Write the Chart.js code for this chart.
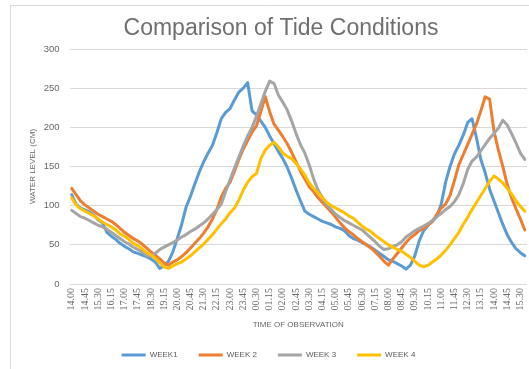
<!DOCTYPE html>
<html>
<head>
<meta charset="utf-8">
<script src="https://cdn.jsdelivr.net/npm/chart.js@4.4.1/dist/chart.umd.min.js"></script>
<style>
  html, body { margin: 0; padding: 0; background: #fff; }
  #wrap { width: 529px; height: 369px; }
</style>
</head>
<body>
<div id="wrap"><canvas id="tide" width="529" height="369"></canvas></div>
<script>
// Water level readings (cm), one every 15 minutes starting at 14.00
const week1Levels = [
  114, 102, 97, 94.5, 92, 88, 82, 78, 66, 61,
  57, 52, 48, 45, 41, 39, 37, 35, 32, 28,
  20, 23, 29, 41, 58, 76, 98, 112, 128, 143,
  156, 167, 177, 193, 211, 219, 224, 235, 245, 250,
  257, 221, 216, 208, 200, 189, 179, 169, 160, 149,
  135, 120, 106, 93, 89, 86, 83, 80, 78, 76,
  73, 71, 68, 62, 58, 56, 53, 50, 47, 43,
  39, 35, 31, 29, 26, 23, 19, 24, 36, 55,
  68, 75, 80, 86, 102, 130, 150, 166, 177, 190,
  206, 211, 187, 159, 142, 121, 106, 91, 76, 63,
  53, 45, 40, 36
];
const week2Levels = [
  122, 114, 106, 101, 97, 93, 89, 86, 83, 80,
  76, 71, 66, 62, 58, 55, 51, 46, 41, 37,
  32, 27, 24, 28, 31, 35, 40, 46, 52, 58,
  65, 73, 83, 95, 111, 122, 130, 144, 159, 172,
  183, 194, 202, 220, 239, 220, 204, 196, 188, 179,
  168, 156, 144, 134, 124, 118, 110, 104, 98, 92,
  85, 78, 72, 67, 63, 58, 54, 50, 46, 41,
  35, 29, 24, 32, 39, 46, 53, 59, 63, 68,
  71, 75, 80, 89, 97, 102, 113, 132, 152, 165,
  178, 191, 204, 221, 239, 236, 195, 171, 150, 127,
  110, 96, 83, 69
];
const week3Levels = [
  94, 90, 86, 84, 81, 78, 75, 73, 70, 66,
  62, 58, 54, 51, 47, 44, 41, 37, 35, 39,
  44, 47, 50, 53, 56, 60, 63, 67, 70, 74,
  78, 83, 89, 95, 102, 118, 133, 148, 162, 176,
  189, 200, 214, 230, 246, 259, 256, 241, 232, 222,
  208, 192, 178, 167, 152, 134, 120, 110, 101, 95,
  89, 85, 81, 78, 75, 72, 69, 64, 59, 54,
  48, 44, 45, 48, 50, 54, 60, 64, 68, 71,
  74, 77, 81, 86, 90, 95, 99, 105, 114, 128,
  146, 157, 162, 170, 178, 186, 192, 199, 209, 203,
  192, 180, 167, 159
];
const week4Levels = [
  110, 101, 96, 93, 90, 87, 83, 79, 76, 73,
  69, 64, 61, 57, 52, 49, 45, 40, 37, 33,
  27, 22, 20, 23, 26, 28, 32, 36, 41, 46,
  51, 57, 63, 70, 77, 83, 91, 97, 107, 120,
  130, 137, 141, 160, 171, 177, 181, 175, 167, 163,
  160, 154, 147, 139, 129, 122, 116, 110, 104, 100,
  97, 94, 91, 87, 84, 79, 74, 70, 67, 62,
  58, 54, 50, 47, 44, 42, 38, 34, 29, 24,
  22, 24, 28, 32, 37, 43, 50, 58, 66, 76,
  85, 95, 104, 113, 122, 131, 138, 134, 129, 122,
  115, 106, 99, 93
];

const seriesNames = ['WEEK1', 'WEEK 2', 'WEEK 3', 'WEEK 4'];
const seriesColors = ['#5B9BD5', '#ED7D31', '#A5A5A5', '#FFC000'];
const yTicks = [0, 50, 100, 150, 200, 250, 300];

// Observation times: 15-minute steps from 14.00, a label printed every 45 minutes
const START_MINUTES = 14 * 60;
const STEP_MINUTES = 15;
const LABEL_EVERY = 3;
const observationTimes = week1Levels.map((_, i) => {
  const m = (START_MINUTES + i * STEP_MINUTES) % (24 * 60);
  const hh = String(Math.floor(m / 60)).padStart(2, '0');
  const mm = String(m % 60).padStart(2, '0');
  return hh + '.' + mm;
});

const TEXT_GREY = '#666666';
const GRID_GREY = '#d9d9d9';

// Chart frame and the heading
const framePlugin = {
  id: 'frame',
  beforeDraw(chart) {
    const ctx = chart.ctx;
    ctx.save();
    ctx.fillStyle = '#ffffff';
    ctx.fillRect(0, 0, chart.width, chart.height);
    ctx.strokeStyle = GRID_GREY;
    ctx.lineWidth = 1;
    ctx.beginPath();
    ctx.moveTo(10.5, chart.height);
    ctx.lineTo(10.5, 5.5);
    ctx.lineTo(chart.width, 5.5);
    ctx.stroke();
    ctx.restore();
  },
  afterDraw(chart) {
    const ctx = chart.ctx;
    ctx.save();
    ctx.fillStyle = '#6f6f6f';
    ctx.font = '23px "Liberation Sans", Arial, sans-serif';
    ctx.textAlign = 'center';
    ctx.textBaseline = 'alphabetic';
    ctx.fillText('Comparison of Tide Conditions', 281, 34.5);
    ctx.restore();
  }
};

const datasets = [week1Levels, week2Levels, week3Levels, week4Levels].map((vals, k) => ({
  label: seriesNames[k],
  data: vals,
  borderColor: seriesColors[k],
  backgroundColor: seriesColors[k],
  borderWidth: 3,
  pointRadius: 0,
  pointHoverRadius: 0,
  tension: 0,
  borderJoinStyle: 'round',
  borderCapStyle: 'round',
  fill: false,
  order: 4 - k
}));

Chart.defaults.font.family = '"Liberation Sans", Arial, sans-serif';

new Chart(document.getElementById('tide'), {
  type: 'line',
  data: { labels: observationTimes, datasets },
  options: {
    responsive: false,
    animation: false,
    layout: { padding: { top: 49, left: 10, right: 2, bottom: 0 } },
    plugins: {
      title: { display: false },
      tooltip: { enabled: false },
      legend: {
        position: 'bottom',
        labels: {
          boxWidth: 24,
          boxHeight: 3,
          padding: 21,
          color: '#595959',
          font: { size: 8 },
          sort: (a, b) => a.datasetIndex - b.datasetIndex,
          generateLabels(chart) {
            return Chart.defaults.plugins.legend.labels.generateLabels(chart)
              .map(item => Object.assign(item, { lineWidth: 0 }));
          }
        }
      }
    },
    scales: {
      x: {
        type: 'category',
        offset: true,
        grid: { display: false, drawTicks: false },
        border: { display: false },
        ticks: {
          autoSkip: false,
          minRotation: 90,
          maxRotation: 90,
          padding: 4,
          color: TEXT_GREY,
          font: { family: '"Liberation Serif", "Times New Roman", serif', size: 10 },
          callback: (value, index) => (index % LABEL_EVERY === 0 ? observationTimes[index] : '')
        },
        title: {
          display: true,
          text: 'TIME OF OBSERVATION',
          color: TEXT_GREY,
          font: { size: 8 },
          padding: { top: 0, bottom: 0 }
        },
        afterFit(scale) {
          scale.height = 46;
          scale.paddingLeft = 0;
          scale.paddingRight = 0;
        }
      },
      y: {
        min: yTicks[0],
        max: yTicks[yTicks.length - 1],
        afterBuildTicks(scale) {
          scale.ticks = yTicks.map(v => ({ value: v }));
        },
        grid: { color: GRID_GREY, lineWidth: 1, drawTicks: false },
        border: { display: false },
        ticks: {
          padding: 10,
          color: TEXT_GREY,
          font: { size: 9.5 }
        },
        title: {
          display: true,
          text: 'WATER LEVEL (CM)',
          color: TEXT_GREY,
          font: { size: 8 },
          padding: { top: 18, bottom: 0 }
        },
        afterFit(scale) {
          scale.width = 59.5;
        }
      }
    }
  },
  plugins: [framePlugin]
});
</script>
</body>
</html>
